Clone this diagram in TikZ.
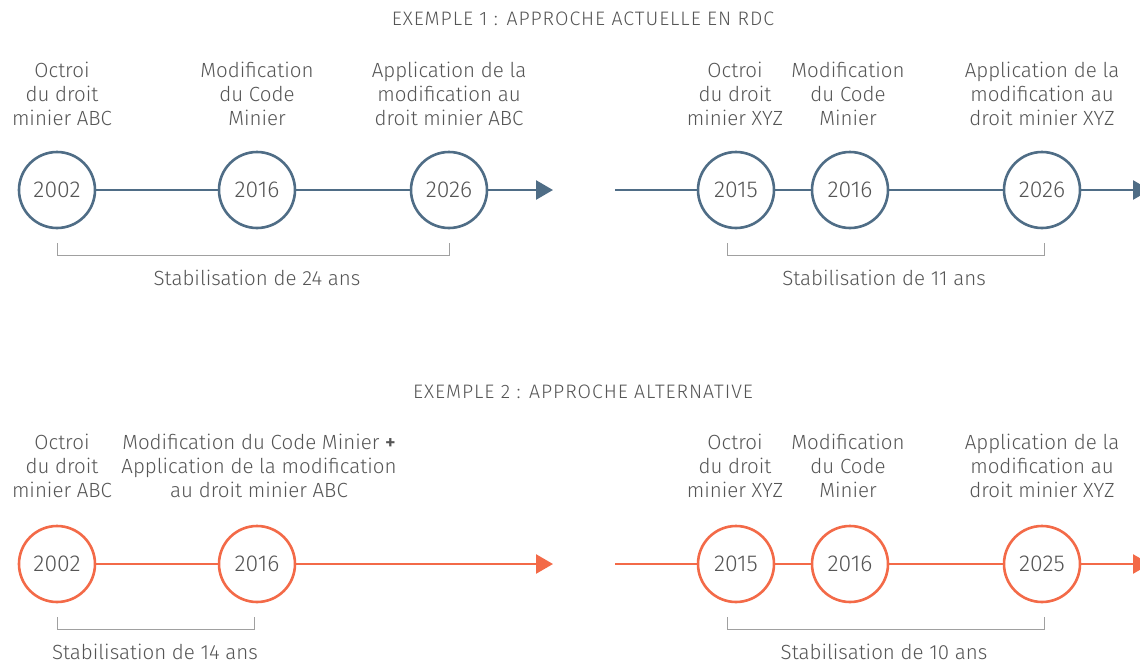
\documentclass[tikz,border=0pt]{standalone}
\usepackage{fontspec}
\setmainfont{Fira Sans}[UprightFont={* Light},BoldFont={* Medium}]
\usetikzlibrary{arrows.meta}
\definecolor{bluec}{HTML}{4F6D86}
\definecolor{orangec}{HTML}{F36A48}
\definecolor{txt}{HTML}{555555}
\definecolor{brk}{HTML}{A0A0A0}
\begin{document}
\begin{tikzpicture}[x=1pt,y=-1pt,
  yr/.style={circle,draw=#1,line width=2.6pt,minimum size=76pt,inner sep=0pt,fill=white,text=txt,font=\fontsize{23}{24}\selectfont},
  lbl/.style={align=center,text=txt,inner sep=0pt,font=\fontsize{20.5}{24}\selectfont},
  ttl/.style={text=txt,inner sep=0pt,font=\fontsize{19.5}{20}\selectfont\addfontfeatures{LetterSpace=5}},
  ln/.style={draw=#1,line width=2.6pt},
  arr/.style={draw=#1,line width=2.6pt,-{Triangle[length=17pt,width=19pt]}},
  bracket/.style={draw=brk,line width=1pt},
  stab/.style={text=txt,inner sep=0pt,font=\fontsize{20.5}{24}\selectfont}]
\useasboundingbox (0,0) rectangle (1140,664);
\fill[white] (0,0) rectangle (1140,664);

% ===== Example 1 =====
\node[ttl] (t1) at (583,19) {EXEMPLE 1 : APPROCHE ACTUELLE EN RDC};

\node[lbl] (l1a) at (62,94) {Octroi\\du droit\\minier ABC};
\node[lbl] (l1b) at (257,94) {Modification\\du Code\\Minier};
\node[lbl] (l1c) at (449,94) {Application de la\\modification au\\droit minier ABC};

\node[yr=bluec] (a1) at (57,190) {2002};
\node[yr=bluec] (a2) at (257,190) {2016};
\node[yr=bluec] (a3) at (449,190) {2026};
\coordinate (a4) at (553,190);
\draw[ln=bluec] (a1) -- (a2);
\draw[ln=bluec] (a2) -- (a3);
\draw[arr=bluec] (a3) -- (a4);

\coordinate (ba1) at (57,243);
\coordinate (ba2) at (449,243);
\draw[bracket] (ba1) -- ++(0,12) -| (ba2);
\node[stab] (s1) at (257,278) {Stabilisation de 24 ans};

\node[lbl] (l2a) at (735,94) {Octroi\\du droit\\minier XYZ};
\node[lbl] (l2b) at (848,94) {Modification\\du Code\\Minier};
\node[lbl] (l2c) at (1042,94) {Application de la\\modification au\\droit minier XYZ};

\coordinate (b0) at (615,190);
\node[yr=bluec] (b1) at (736,190) {2015};
\node[yr=bluec] (b2) at (850,190) {2016};
\node[yr=bluec] (b3) at (1042,190) {2026};
\coordinate (b4) at (1150,190);
\draw[ln=bluec] (b0) -- (b1);
\draw[ln=bluec] (b1) -- (b2);
\draw[ln=bluec] (b2) -- (b3);
\draw[arr=bluec] (b3) -- (b4);

\coordinate (bb1) at (727,243);
\coordinate (bb2) at (1044,243);
\draw[bracket] (bb1) -- ++(0,12) -| (bb2);
\node[stab] (s2) at (884,278) {Stabilisation de 11 ans};

% ===== Example 2 =====
\node[ttl] (t2) at (583,392) {EXEMPLE 2 : APPROCHE ALTERNATIVE};

\node[lbl] (l3a) at (62,466) {Octroi\\du droit\\minier ABC};
\node[lbl] (l3b) at (259,466) {Modification du Code Minier \textbf{+}\\Application de la modification\\au droit minier ABC};

\node[yr=orangec] (c1) at (57,564) {2002};
\node[yr=orangec] (c2) at (257,564) {2016};
\coordinate (c3) at (553,564);
\draw[ln=orangec] (c1) -- (c2);
\draw[arr=orangec] (c2) -- (c3);

\coordinate (bc1) at (57,617);
\coordinate (bc2) at (254,617);
\draw[bracket] (bc1) -- ++(0,12) -| (bc2);
\node[stab] (s3) at (155,652) {Stabilisation de 14 ans};

\node[lbl] (l4a) at (735,466) {Octroi\\du droit\\minier XYZ};
\node[lbl] (l4b) at (848,466) {Modification\\du Code\\Minier};
\node[lbl] (l4c) at (1042,466) {Application de la\\modification au\\droit minier XYZ};

\coordinate (d0) at (615,564);
\node[yr=orangec] (d1) at (736,564) {2015};
\node[yr=orangec] (d2) at (850,564) {2016};
\node[yr=orangec] (d3) at (1042,564) {2025};
\coordinate (d4) at (1150,564);
\draw[ln=orangec] (d0) -- (d1);
\draw[ln=orangec] (d1) -- (d2);
\draw[ln=orangec] (d2) -- (d3);
\draw[arr=orangec] (d3) -- (d4);

\coordinate (bd1) at (727,617);
\coordinate (bd2) at (1044,617);
\draw[bracket] (bd1) -- ++(0,12) -| (bd2);
\node[stab] (s4) at (884,652) {Stabilisation de 10 ans};
\end{tikzpicture}
\end{document}
